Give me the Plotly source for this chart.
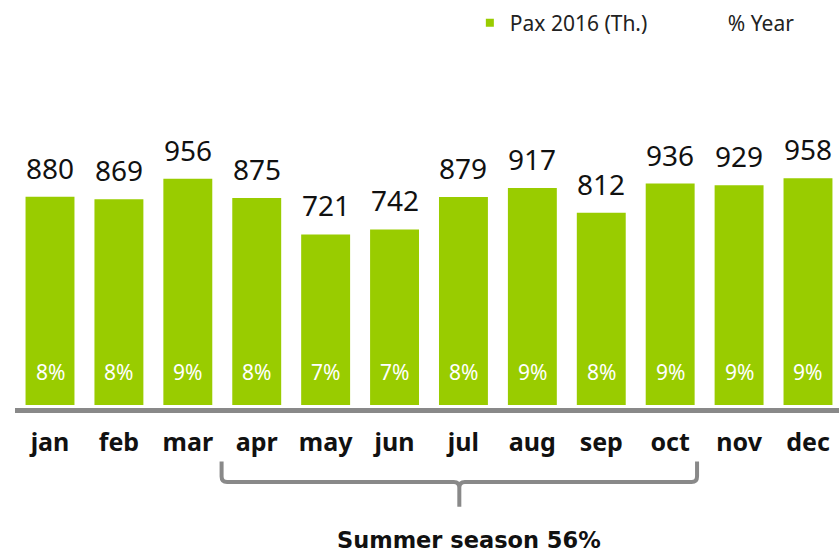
import plotly.graph_objects as go

months = ["jan", "feb", "mar", "apr", "may", "jun", "jul", "aug", "sep", "oct", "nov", "dec"]
pax_2016 = [880, 869, 956, 875, 721, 742, 879, 917, 812, 936, 929, 958]
pct_year = ["8%", "8%", "9%", "8%", "7%", "7%", "8%", "9%", "8%", "9%", "9%", "9%"]
summer_label = "Summer season 56%"

GREEN = "#99cc00"
GRAY = "#898989"
FONT = "Noto Sans"

fig = go.Figure()
fig.add_trace(go.Bar(
    x=list(range(len(months))), y=pax_2016, width=0.71,
    marker=dict(color=GREEN, line=dict(width=0)),
    showlegend=False, hoverinfo="skip",
))
# legend-only entries
fig.add_trace(go.Scatter(x=[None], y=[None], mode="markers", name="Pax 2016 (Th.)",
                         marker=dict(symbol="square", size=8, color=GREEN)))
fig.add_trace(go.Scatter(x=[None], y=[None], mode="markers", name="% Year",
                         marker=dict(symbol="square", size=8, color="rgba(0,0,0,0)")))

annotations = []
for i, (v, p) in enumerate(zip(pax_2016, pct_year)):
    annotations.append(dict(x=i, y=v, xref="x", yref="y", text=str(v), showarrow=False,
                            yanchor="bottom", yshift=8,
                            font=dict(family=FONT, size=28, color="#111111")))
    annotations.append(dict(x=i, y=0, xref="x", yref="y", text=p, showarrow=False,
                            yanchor="middle", yshift=33,
                            font=dict(family=FONT, size=21, color="white")))

annotations.append(dict(x=6.08, y=-0.38, xref="x", yref="paper", text="<b>%s</b>" % summer_label,
                        showarrow=False, yanchor="middle",
                        font=dict(family="DejaVu Sans", size=22.5, color="#111111")))

# bracket under apr..oct
xl, xr, xm = 2.49, 9.39, 5.94
yt, yh, yb = -0.154, -0.213, -0.284
rx, ry = 0.08, 0.016
path = (f"M {xl} {yt} L {xl} {yh+ry} Q {xl} {yh} {xl+rx} {yh} "
        f"L {xm-rx} {yh} Q {xm} {yh} {xm} {yh-ry} L {xm} {yb} "
        f"M {xm} {yh-ry} Q {xm} {yh} {xm+rx} {yh} L {xr-rx} {yh} "
        f"Q {xr} {yh} {xr} {yh+ry} L {xr} {yt}")

fig.update_layout(
    width=839, height=557,
    margin=dict(l=15, r=0, t=60, b=149, autoexpand=False),
    plot_bgcolor="white", paper_bgcolor="white",
    font=dict(family=FONT, color="#111111"),
    bargap=0.29,
    xaxis=dict(range=[-0.508, 11.45], tickmode="array", tickvals=list(range(12)),
               ticktext=["<b>%s</b>" % m for m in months],
               tickfont=dict(family=FONT, size=25, color="#111111"),
               tickangle=0, automargin=False,
               showline=True, linecolor=GRAY, linewidth=5, showgrid=False, zeroline=False,
               ticks="", ticklabelstandoff=8, fixedrange=True),
    yaxis=dict(range=[-12.7, 1458], visible=False, showgrid=False, zeroline=False),
    legend=dict(orientation="h", x=0.552, y=1.106, xanchor="left", yanchor="middle",
                font=dict(family=FONT, size=21, color="#222222"),
                entrywidth=173, entrywidthmode="pixels", bgcolor="rgba(0,0,0,0)"),
    annotations=annotations,
    shapes=[dict(type="path", xref="x", yref="paper", path=path,
                 line=dict(color=GRAY, width=4))],
)

fig.write_html("out.html", config={"displayModeBar": False},
               post_script="document.body.style.margin='0';document.body.style.overflow='hidden';")
